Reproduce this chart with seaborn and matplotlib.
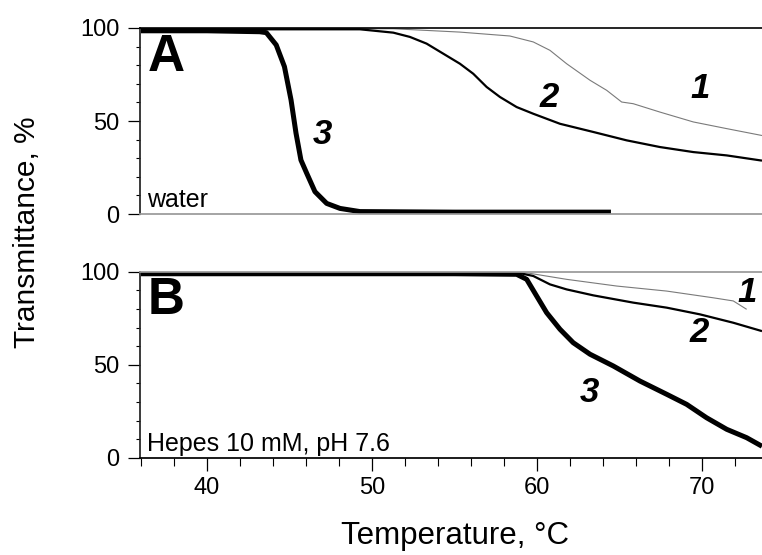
import matplotlib
matplotlib.use("Agg")
import matplotlib.pyplot as plt
from matplotlib.ticker import MultipleLocator
import seaborn as sns

# ---- data: panel A (water) ----
a1_t = [36, 40, 45, 49, 51.3, 55.34, 58.37, 59.79, 60.8, 61.81, 63.23, 64.24, 65.15, 65.85, 67.47, 69.49, 71.52, 73.66]
a1_v = [99.6, 99.6, 99.6, 99.6, 99.6, 97.8, 95.7, 92.5, 88.0, 80.8, 71.9, 66.5, 60.2, 59.3, 54.8, 49.5, 45.9, 42.2]
a2_t = [36, 40, 45, 49.28, 51.3, 52.31, 53.32, 54.33, 55.34, 56.15, 56.96, 57.77, 58.78, 59.79, 61.41, 63.43, 65.45, 67.47, 69.49, 71.52, 73.66]
a2_v = [99.3, 99.3, 99.3, 99.3, 97.5, 95.2, 91.6, 86.2, 80.8, 75.4, 68.3, 62.9, 57.5, 53.9, 48.5, 44.1, 39.6, 36.0, 33.3, 31.5, 28.7]
a3_t = [36, 40, 43.2, 43.6, 44.2, 44.7, 45.1, 45.4, 45.7, 46.05, 46.55, 47.26, 48.07, 49.28, 55, 64.5]
a3_v = [98.5, 98.5, 98.0, 97.5, 90.9, 79.2, 61.3, 43.5, 29.0, 21.9, 12.0, 5.7, 3.0, 1.3, 1.0, 1.0]

# ---- data: panel B (Hepes) ----
b1_t = [36, 45, 55, 59.39, 61.81, 64.85, 67.88, 70.7, 71.92, 72.73]
b1_v = [99.3, 99.3, 99.3, 99.4, 95.9, 92.3, 89.6, 86.0, 84.3, 79.8]
b2_t = [36, 45, 55, 58.98, 59.79, 60.8, 61.81, 63.43, 65.85, 67.88, 69.9, 71.92, 73.66]
b2_v = [99.1, 99.1, 99.1, 99.2, 97.7, 93.2, 90.5, 87.3, 83.4, 80.7, 77.1, 72.6, 68.1]
b3_t = [36, 45, 55, 58.78, 59.39, 59.99, 60.6, 61.41, 62.21, 63.23, 64.64, 66.26, 67.88, 69.09, 70.3, 71.52, 72.73, 73.66]
b3_v = [98.9, 98.9, 98.9, 98.6, 95.9, 87.0, 78.0, 69.1, 61.9, 55.7, 49.4, 41.3, 34.2, 28.8, 21.6, 15.4, 10.9, 6.3]

panel_letters = ["A", "B"]
panel_notes = ["water", "Hepes 10 mM, pH 7.6"]
curve_names = ["1", "2", "3"]
# label anchor positions (T, value) per panel
lab_a = [(69.9, 67.7), (60.74, 62.9), (47.0, 43.0)]
lab_b = [(72.75, 89.1), (69.84, 67.1), (63.2, 34.9)]

x_ticks = [40, 50, 60, 70]
y_ticks = [0, 50, 100]

sns.set_theme(style="ticks")
plt.rcParams['font.family'] = ['Liberation Sans', 'DejaVu Sans']
plt.rcParams['text.color'] = 'black'
plt.rcParams['xtick.color'] = 'black'
plt.rcParams['ytick.color'] = 'black'
plt.rcParams['xtick.labelcolor'] = 'black'
plt.rcParams['ytick.labelcolor'] = 'black'

fig = plt.figure(figsize=(7.62, 5.55), dpi=100)
axA = fig.add_axes([140/762, 1-214/555, 622/762, 186/555])
axB = fig.add_axes([140/762, 1-458/555, 622/762, 186.3/555])

styles = [dict(color="#7a7a7a", lw=0.8), dict(color="black", lw=1.6), dict(color="black", lw=3.6)]

for ax, curves, labs, letter, note in [
    (axA, [(a1_t, a1_v), (a2_t, a2_v), (a3_t, a3_v)], lab_a, panel_letters[0], panel_notes[0]),
    (axB, [(b1_t, b1_v), (b2_t, b2_v), (b3_t, b3_v)], lab_b, panel_letters[1], panel_notes[1]),
]:
    for (t, v), st in zip(curves, styles):
        sns.lineplot(x=t, y=v, ax=ax, color=st["color"], linewidth=st["lw"],
                     estimator=None, sort=False, solid_joinstyle="round", solid_capstyle="butt")
    for name, (tx, ty) in zip(curve_names, labs):
        ax.text(tx, ty, name, fontsize=25, fontweight="bold", fontstyle="italic",
                ha="center", va="center", color="black")
    ax.set_xlim(35.94, 73.66)
    ax.set_ylim(0, 100)
    ax.set_yticks(y_ticks)
    ax.yaxis.set_minor_locator(MultipleLocator(10))
    ax.tick_params(axis="y", which="major", length=9, width=0.9, labelsize=17, pad=6, direction="out")
    ax.tick_params(axis="y", which="minor", length=3, width=0.8, direction="out")
    ax.spines["right"].set_visible(False)
    ax.spines["left"].set_color("#222222")
    ax.text(0.012, 0.975, letter, transform=ax.transAxes, fontsize=37, fontweight="bold",
            ha="left", va="top", color="black")
    ax.text(0.012, 0.04, note, transform=ax.transAxes, fontsize=18, ha="left", va="baseline",
            color="black")
    ax.set_xlabel("")
    ax.set_ylabel("")

# panel A: no x ticks, dark top, gray bottom
axA.tick_params(axis="x", which="both", bottom=False, labelbottom=False)
axA.spines["top"].set_color("black")
axA.spines["top"].set_linewidth(1.2)
axA.spines["bottom"].set_color("#999999")

# panel B
axB.spines["top"].set_color("#999999")
axB.spines["bottom"].set_color("black")
axB.set_xticks(x_ticks)
axB.xaxis.set_minor_locator(MultipleLocator(2))
axB.tick_params(axis="x", which="major", length=9, width=0.9, labelsize=17, pad=5, direction="out")
axB.tick_params(axis="x", which="minor", length=6, width=0.8, direction="out")

fig.text(455/762, 1-536/555, "Temperature, °C", fontsize=22.5, ha="center", va="center")
fig.text(27/762, 1-232/555, "Transmittance, %", fontsize=21.5, ha="center", va="center", rotation=90)

fig.savefig("out.png", dpi=100)
